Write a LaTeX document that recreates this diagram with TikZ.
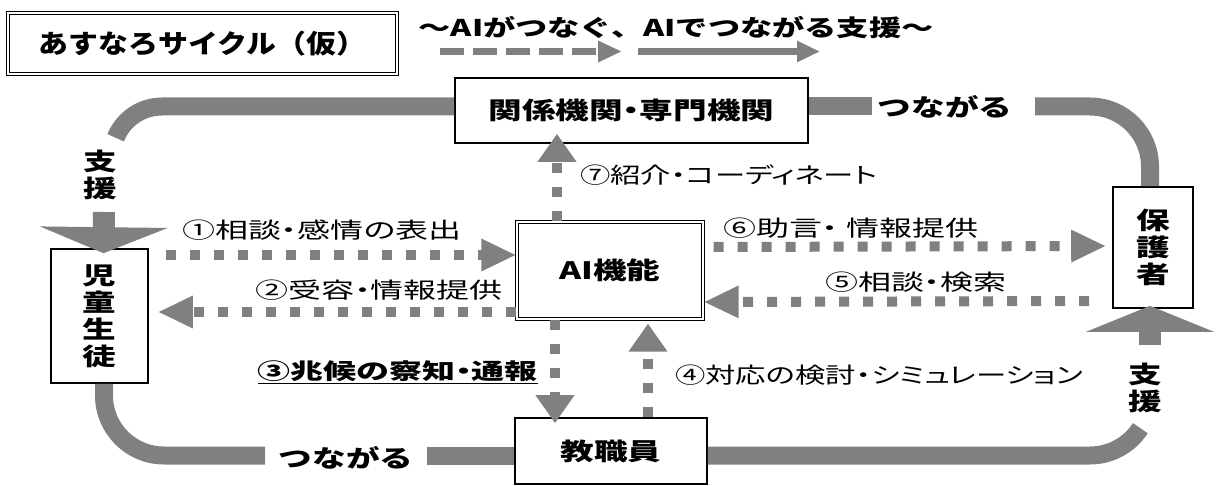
\documentclass[tikz,border=0pt]{standalone}
\usepackage{fontspec}
\usetikzlibrary{arrows.meta}
\newfontfamily\jpW[FakeStretch=1.4]{Noto Sans CJK JP}
\newfontfamily\jpWP[FakeStretch=1.4,RawFeature=+palt]{Noto Sans CJK JP}
\newfontfamily\jpL[FakeStretch=1.5,RawFeature=+palt]{Noto Sans CJK JP}
\newfontfamily\jpLN[FakeStretch=1.38,RawFeature=+palt]{Noto Sans CJK JP}
\newfontfamily\jpT[FakeStretch=1.15]{Noto Sans CJK JP}
\definecolor{bandgray}{RGB}{128,128,128}
\begin{document}
\begin{tikzpicture}[x=1pt,y=1pt,
 band/.style={draw=bandgray, line width=18pt},
 dotline/.style={draw=bandgray, line width=10pt, dash pattern=on 10pt off 14pt},
 hhead/.style={-{Triangle[length=35pt,width=30pt]}},
 vhead/.style={-{Triangle[length=28pt,width=37pt]}},
 blockarrow/.style={draw=bandgray, line width=22pt, -{Triangle[length=26pt,width=127pt]}},
 frame/.style={draw, line width=1.6pt, fill=white, inner sep=0pt},
 dframe/.style={draw, double, line width=1.2pt, double distance=2.2pt, fill=white, inner sep=0pt},
 btxt/.style={font=\jpW\bfseries\fontsize{24}{27}\selectfont, inner sep=0pt, align=center},
 ltxt/.style={font=\jpL\fontsize{22}{24}\selectfont, inner sep=0pt},
 ltxtn/.style={font=\jpLN\fontsize{22}{24}\selectfont, inner sep=0pt},
 ltxtb/.style={font=\jpL\bfseries\fontsize{22}{24}\selectfont, inner sep=0pt},
]
\useasboundingbox (0,0) rectangle (1223,-486);

% title and legend
\node[dframe, minimum width=389pt, minimum height=61pt, font=\jpT\bfseries\fontsize{26}{28}\selectfont] (title) at (202.5,-43.5) {あすなろサイクル（仮）};
\node[btxt, font=\jpW\bfseries\fontsize{23}{25}\selectfont] (header) at (676,-28) {～AIがつなぐ、AIでつながる支援～};
\coordinate (ha1) at (440,-51.5); \coordinate (ha2) at (622,-51.5);
\coordinate (hb1) at (638,-51.5); \coordinate (hb2) at (820,-51.5);
\draw[bandgray, line width=7pt, dash pattern=on 24pt off 9pt, -{Triangle[length=24pt,width=20pt]}] (ha1) -- (ha2);
\draw[bandgray, line width=7pt, -{Triangle[length=23pt,width=20pt]}] (hb1) -- (hb2);

% boxes
\node[frame, minimum width=353pt, minimum height=65pt, btxt, font=\jpWP\bfseries\fontsize{24}{27}\selectfont] (kankei) at (631.5,-110.5) {関係機関・専門機関};
\node[dframe, minimum width=186pt, minimum height=97pt, btxt] (ai) at (610,-270.5) {AI機能};
\node[frame, minimum width=97pt, minimum height=134pt, btxt] (jido) at (99.5,-316) {児\\童\\生\\徒};
\node[frame, minimum width=80pt, minimum height=121pt, btxt] (hogo) at (1153,-247.5) {保\\護\\者};
\node[frame, minimum width=192pt, minimum height=66pt, btxt] (kyo) at (611,-451) {教職員};

% bands
\coordinate (tl) at (162,-106.5);
\coordinate (tr1) at (872,-106.5);
\coordinate (tr2) at (1035,-106.5);
\coordinate (bl) at (265,-455.5);
\coordinate (bm) at (427,-455.5);
\draw[band] ([yshift=4pt]kankei.west) -- (tl) arc[start angle=90,end angle=158,radius=50];
\draw[band] ([yshift=4pt]kankei.east) -- (tr1);
\draw[band] (tr2) -- (1090,-106.5) arc[start angle=90,end angle=0,radius=60] -- ([xshift=-3pt]hogo.north);
\draw[band] ([xshift=4.5pt]jido.south) -- (104,-395.5) arc[start angle=180,end angle=270,radius=60] -- (bl);
\draw[band] (bm) -- ([yshift=-4.5pt]kyo.west);
\draw[band] ([yshift=-4.5pt]kyo.east) -- (1090,-455.5) arc[start angle=270,end angle=327,radius=60];

\node[btxt] (tsu1) at (945,-107) {つながる};
\node[btxt] (tsu2) at (346,-458) {つながる};
\node[btxt] (shien1) at (100,-175) {支\\援};
\node[btxt] (shien2) at (1145,-388) {支\\援};

% block arrows
\coordinate (sa1) at (104,-212);
\coordinate (sa2) at (1150,-345);
\draw[blockarrow] (sa1) -- ([xshift=4pt,yshift=-5pt]jido.north);
\draw[blockarrow] (sa2) -- ([xshift=-3pt,yshift=3pt]hogo.south);

% dotted connectors
\draw[dotline,hhead] ([xshift=17pt,yshift=61pt]jido.east) -- ([yshift=15.5pt]ai.west);
\draw[dotline,hhead] ([yshift=-41.5pt]ai.west) -- ([xshift=9pt,yshift=4pt]jido.east);
\draw[dotline,vhead] ([xshift=-55pt]ai.south) -- ([xshift=-56pt,yshift=-6pt]kyo.north);
\draw[dotline,vhead] ([xshift=37pt]kyo.north) -- ([xshift=38pt,yshift=-4pt]ai.south);
\draw[dotline,hhead] ([xshift=-23pt,yshift=-53.5pt]hogo.west) -- ([yshift=-31.5pt]ai.east);
\draw[dotline,hhead] ([xshift=10pt,yshift=23.5pt]ai.east) -- ([xshift=-6pt,yshift=1.5pt]hogo.west);
\draw[dotline,vhead] ([xshift=-53pt]ai.north) -- ([xshift=-74.5pt,yshift=10pt]kankei.south);

% labels
\node[ltxt, anchor=west] (l1) at (182,-230) {①相談・感情の表出};
\node[ltxt, anchor=east] (l2) at (503,-290) {②受容・情報提供};
\node[ltxtb, anchor=east] (l3) at (538,-372) {\underline{③兆候の察知・通報}};
\node[ltxtn, anchor=west] (l4) at (675,-375) {④対応の検討・シミュレーション};
\node[ltxt, anchor=west] (l5) at (825,-282) {⑤相談・検索};
\node[ltxt, anchor=west] (l6) at (723,-228) {⑥助言・ 情報提供};
\node[ltxtn, anchor=west] (l7) at (580,-175) {⑦紹介・コーディネート};
\end{tikzpicture}
\end{document}
